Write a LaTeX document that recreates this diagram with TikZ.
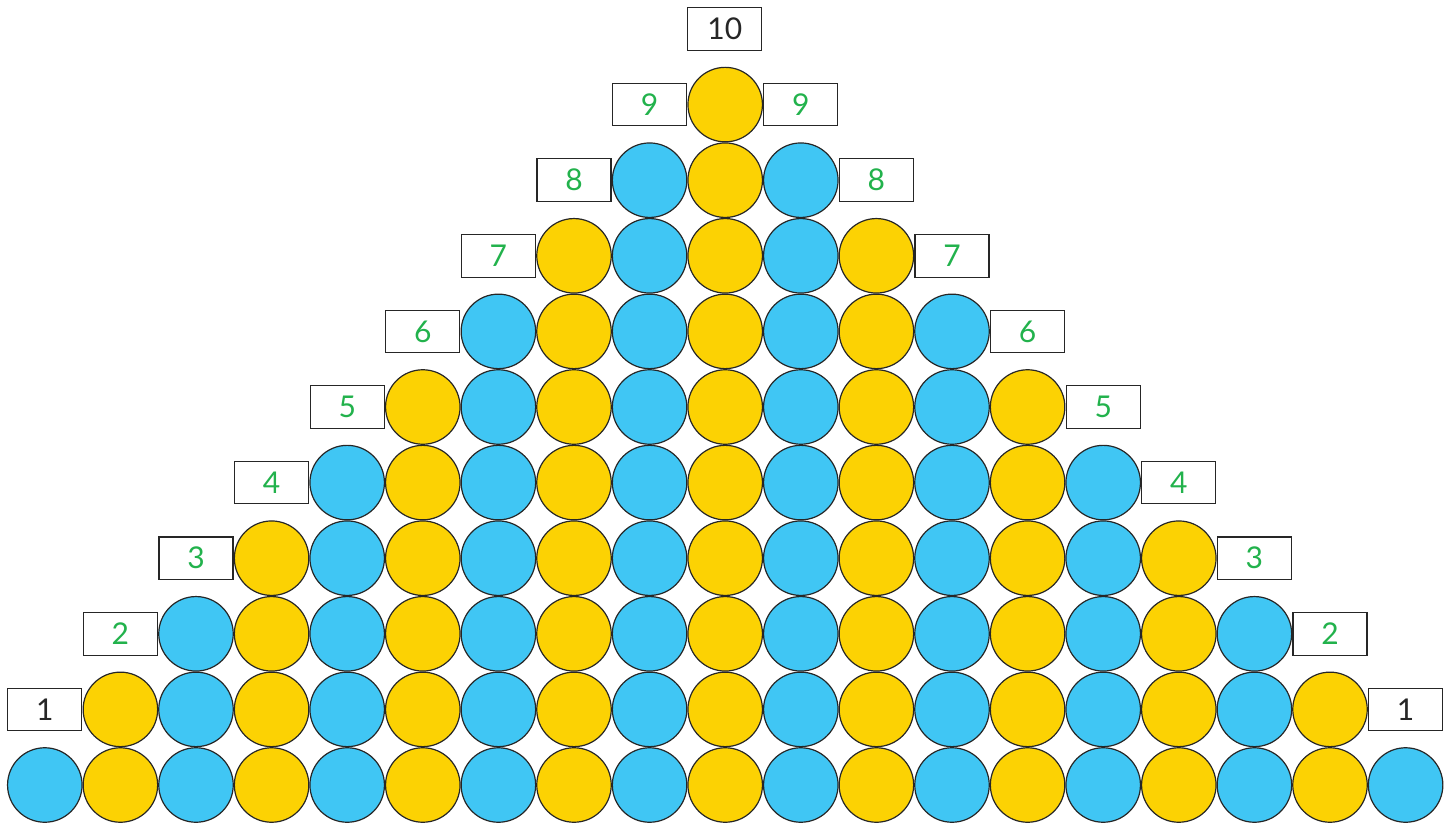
\documentclass[tikz,border=0pt]{standalone}
\usepackage{fontspec}
\setmainfont{Lato}
\definecolor{cblue}{HTML}{40C6F4}
\definecolor{cyellow}{HTML}{FCD203}
\definecolor{cgreen}{HTML}{22B24C}
\definecolor{cline}{HTML}{262626}
\tikzset{
  ball/.style={circle,draw=cline,line width=1.2pt,minimum size=74.5pt,inner sep=0pt},
  blueball/.style={ball,fill=cblue},
  yellowball/.style={ball,fill=cyellow},
  numbox/.style={rectangle,draw=cline,line width=1.1pt,fill=white,minimum width=74pt,minimum height=42.5pt,inner sep=0pt,font=\fontsize{30pt}{30pt}\selectfont},
  greenbox/.style={numbox,text=cgreen},
  blackbox/.style={numbox,text=cline}
}
\begin{document}
\begin{tikzpicture}[x=1pt,y=-1pt]
\useasboundingbox (0,0) rectangle (1454,824);
\foreach \k in {0,...,9}{
  \pgfmathtruncatemacro{\jmin}{\k}
  \pgfmathtruncatemacro{\jmax}{18-\k}
  \foreach \j in {\jmin,...,\jmax}{
    \pgfmathsetmacro{\xx}{44.8+75.6*\j}
    \pgfmathsetmacro{\yy}{785-75.6*\k}
    \pgfmathtruncatemacro{\odd}{mod(\j,2)}
    \ifnum\odd=1
      \node[yellowball] (c-\k-\j) at (\xx,\yy) {};
    \else
      \node[blueball] (c-\k-\j) at (\xx,\yy) {};
    \fi
  }
}
\foreach \k in {1,...,9}{
  \pgfmathtruncatemacro{\jl}{\k-1}
  \pgfmathtruncatemacro{\jr}{19-\k}
  \pgfmathsetmacro{\xl}{44.8+75.6*\jl}
  \pgfmathsetmacro{\xr}{44.8+75.6*\jr}
  \pgfmathsetmacro{\yy}{785-75.6*\k}
  \ifnum\k=1
    \node[blackbox] (l-\k) at (\xl,\yy) {\k};
    \node[blackbox] (r-\k) at (\xr,\yy) {\k};
  \else
    \node[greenbox] (l-\k) at (\xl,\yy) {\k};
    \node[greenbox] (r-\k) at (\xr,\yy) {\k};
  \fi
}
\node[blackbox] (top) at (724.8,29) {10};
\end{tikzpicture}
\end{document}
